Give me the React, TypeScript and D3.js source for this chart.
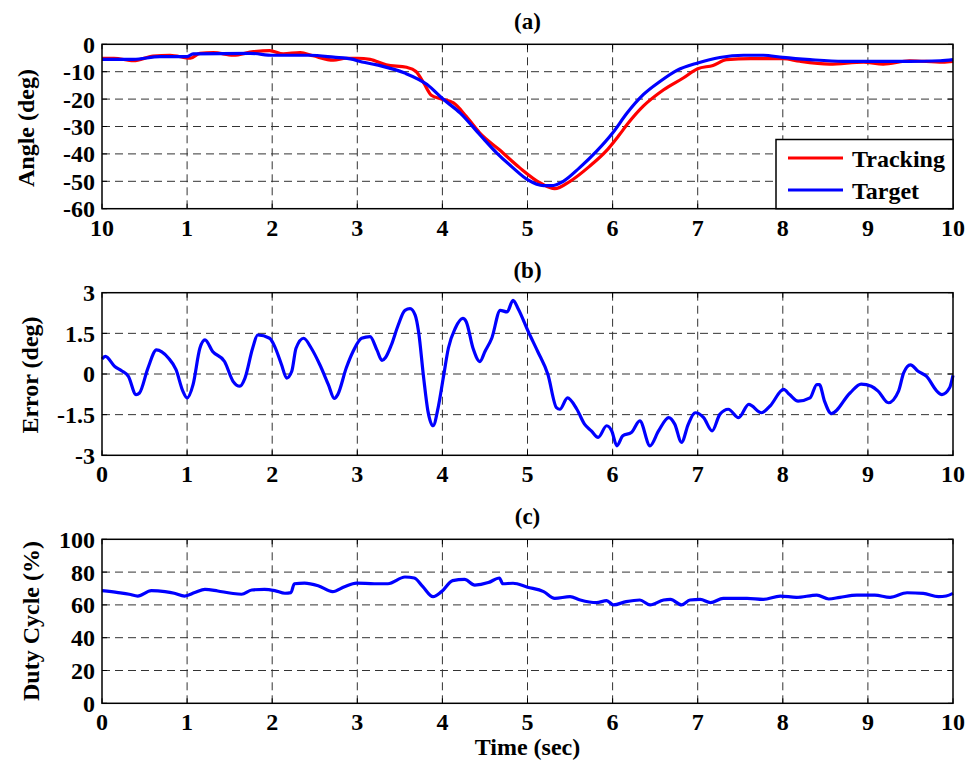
import React from "react";
import * as d3 from "d3";

// time axis ticks, shared by the three panels
const timeTicks = [0, 1, 2, 3, 4, 5, 6, 7, 8, 9, 10];
const angleTimeLabels = ["10", "1", "2", "3", "4", "5", "6", "7", "8", "9", "10"];
const timeLabels = ["0", "1", "2", "3", "4", "5", "6", "7", "8", "9", "10"];

const angleTicks = [0, -10, -20, -30, -40, -50, -60];
const errorTicks = [3, 1.5, 0, -1.5, -3];
const errorTickLabels = ["3", "1.5", "0", "-1.5", "-3"];
const dutyTicks = [0, 20, 40, 60, 80, 100];

// (a) tracking angle (red)
const trackingT = [0, 0.14, 0.37, 0.6, 0.8, 1.04, 1.15, 1.31, 1.54, 1.78, 1.97, 2.13, 2.33, 2.48, 2.72, 2.87, 3.0, 3.15, 3.34, 3.58, 3.69, 3.78, 3.87, 3.97, 4.13, 4.28, 4.44, 4.67, 4.91, 5.15, 5.32, 5.5, 5.73, 5.92, 6.08, 6.17, 6.36, 6.6, 6.83, 7.0, 7.18, 7.34, 7.62, 8.0, 8.2, 8.55, 8.95, 9.18, 9.49, 9.88, 10.0];
const trackingV = [-5.1, -5.1, -6.0, -4.3, -4.0, -5.1, -3.3, -3.0, -4.0, -2.7, -2.3, -3.5, -3.0, -4.2, -5.8, -5.1, -5.1, -5.5, -7.5, -8.4, -9.9, -14.1, -18.6, -19.8, -21.4, -26.3, -32.4, -38.5, -45.1, -50.6, -52.7, -50.0, -44.5, -39.1, -33.0, -29.3, -22.6, -16.6, -12.3, -8.9, -7.7, -5.6, -5.2, -5.2, -6.2, -7.2, -6.5, -7.2, -6.0, -6.5, -6.2];

// (a) target angle (blue)
const targetT = [0, 0.37, 0.68, 1.0, 1.07, 1.74, 2.01, 2.44, 2.72, 2.95, 3.0, 3.23, 3.55, 3.82, 4.0, 4.21, 4.44, 4.64, 4.83, 5.0, 5.19, 5.28, 5.42, 5.61, 5.81, 6.0, 6.17, 6.36, 6.56, 6.75, 7.0, 7.26, 7.54, 7.77, 8.0, 8.32, 8.71, 9.1, 9.49, 9.85, 10.0];
const targetV = [-5.5, -5.5, -4.5, -4.5, -3.5, -3.3, -4.0, -4.0, -4.7, -5.5, -6.0, -7.5, -10.4, -14.7, -19.8, -25.1, -33.0, -39.7, -45.1, -49.4, -51.6, -51.6, -50.0, -45.1, -39.1, -32.4, -25.1, -18.4, -13.5, -9.6, -6.8, -4.8, -4.0, -4.0, -4.8, -5.6, -6.2, -6.2, -6.2, -6.0, -5.6];

// (b) tracking error
const errorT = [0, 0.04, 0.15, 0.23, 0.31, 0.4, 0.44, 0.54, 0.64, 0.78, 0.87, 0.95, 1.0, 1.07, 1.15, 1.21, 1.3, 1.44, 1.54, 1.62, 1.68, 1.77, 1.83, 1.97, 2.03, 2.11, 2.17, 2.23, 2.28, 2.37, 2.46, 2.56, 2.66, 2.73, 2.77, 2.87, 2.95, 3.05, 3.15, 3.23, 3.29, 3.33, 3.4, 3.48, 3.56, 3.62, 3.68, 3.72, 3.78, 3.83, 3.89, 3.95, 4.01, 4.07, 4.15, 4.24, 4.28, 4.36, 4.44, 4.5, 4.58, 4.68, 4.76, 4.83, 4.89, 5.01, 5.12, 5.24, 5.34, 5.38, 5.47, 5.58, 5.67, 5.75, 5.83, 5.93, 5.99, 6.05, 6.12, 6.22, 6.32, 6.44, 6.54, 6.66, 6.73, 6.81, 6.89, 6.97, 7.07, 7.17, 7.26, 7.36, 7.48, 7.6, 7.75, 7.85, 8.01, 8.08, 8.18, 8.32, 8.4, 8.43, 8.49, 8.57, 8.79, 8.92, 9.04, 9.12, 9.24, 9.36, 9.42, 9.5, 9.59, 9.69, 9.81, 9.87, 9.96, 10.0];
const errorV = [0.55, 0.65, 0.28, 0.12, -0.09, -0.76, -0.7, 0.22, 0.89, 0.59, 0.16, -0.63, -0.88, -0.39, 0.95, 1.26, 0.83, 0.46, -0.27, -0.45, -0.15, 0.95, 1.44, 1.32, 1.01, 0.34, -0.15, 0.1, 0.95, 1.32, 0.95, 0.34, -0.39, -0.9, -0.76, 0.22, 0.83, 1.32, 1.38, 0.89, 0.5, 0.6, 1.07, 1.8, 2.35, 2.41, 2.17, 1.56, -0.15, -1.37, -1.91, -1.24, -0.15, 0.95, 1.68, 2.05, 1.93, 0.95, 0.46, 0.83, 1.32, 2.35, 2.29, 2.72, 2.41, 1.56, 0.83, -0.02, -1.24, -1.3, -0.88, -1.3, -1.85, -2.1, -2.34, -1.91, -2.1, -2.65, -2.28, -2.16, -1.73, -2.65, -2.1, -1.61, -1.85, -2.52, -1.85, -1.43, -1.61, -2.1, -1.49, -1.3, -1.61, -1.12, -1.43, -1.18, -0.57, -0.76, -1.0, -0.88, -0.39, -0.39, -1.0, -1.46, -0.7, -0.37, -0.45, -0.63, -1.06, -0.63, 0.04, 0.34, 0.1, -0.09, -0.63, -0.76, -0.51, -0.05];

// (c) duty cycle
const dutyT = [0, 0.19, 0.32, 0.42, 0.58, 0.74, 0.85, 0.97, 1.09, 1.21, 1.36, 1.52, 1.64, 1.76, 1.91, 2.03, 2.15, 2.22, 2.26, 2.38, 2.54, 2.71, 2.85, 2.99, 3.2, 3.36, 3.56, 3.67, 3.77, 3.89, 3.99, 4.12, 4.26, 4.38, 4.54, 4.67, 4.71, 4.83, 5.0, 5.19, 5.32, 5.5, 5.62, 5.81, 5.93, 6.01, 6.16, 6.32, 6.44, 6.6, 6.68, 6.81, 6.91, 7.03, 7.15, 7.3, 7.58, 7.77, 7.97, 8.16, 8.4, 8.54, 8.67, 8.87, 9.08, 9.26, 9.46, 9.65, 9.83, 9.92, 10.0];
const dutyV = [68.7, 67.5, 66.5, 65.4, 68.7, 68.1, 67.1, 65.4, 67.5, 69.5, 68.5, 67.1, 66.5, 69.1, 69.5, 68.7, 67.1, 67.5, 72.9, 73.3, 71.7, 68.1, 71.1, 73.3, 72.9, 72.9, 77.0, 76.4, 71.1, 65.0, 68.1, 74.8, 75.6, 72.1, 73.6, 76.4, 72.9, 73.2, 70.8, 68.1, 64.0, 65.0, 63.0, 61.4, 62.6, 60.0, 62.0, 63.0, 60.0, 63.0, 63.4, 60.0, 63.0, 63.4, 61.4, 64.0, 64.0, 63.4, 65.4, 64.6, 66.0, 63.6, 64.6, 66.0, 66.0, 64.6, 67.4, 67.0, 65.0, 65.4, 67.0];

const FONT = "'Liberation Serif', 'Times New Roman', serif";
const W = 973;
const H = 764;
const left = 102;
const right = 953;

type Series = { t: number[]; v: number[]; color: string };

function Panel({ top, bottom, domain, yTicks, yLabels, xLabels, title, ylabel, ylabelY, ylabelX, series }: {
  top: number; bottom: number; domain: [number, number]; yTicks: number[]; yLabels: string[];
  xLabels: string[]; title: string; ylabel: string; ylabelY: number; ylabelX: number; series: Series[];
}) {
  const x = d3.scaleLinear().domain([0, 10]).range([left, right]);
  const y = d3.scaleLinear().domain(domain).range([bottom, top]);
  const tick = 5;

  return (
    <g>
      {/* grid */}
      {timeTicks.slice(1, -1).map((t) => (
        <line key={"vx" + t} x1={x(t)} x2={x(t)} y1={top} y2={bottom} stroke="#333" strokeWidth={1} strokeDasharray="8,5" />
      ))}
      {yTicks.filter((v) => v !== domain[0] && v !== domain[1]).map((v) => (
        <line key={"hy" + v} x1={left} x2={right} y1={y(v)} y2={y(v)} stroke="#333" strokeWidth={1} strokeDasharray="8,5" />
      ))}
      {/* inward ticks */}
      {timeTicks.map((t) => (
        <g key={"tk" + t}>
          <line x1={x(t)} x2={x(t)} y1={bottom} y2={bottom - tick} stroke="#000" />
          <line x1={x(t)} x2={x(t)} y1={top} y2={top + tick} stroke="#000" />
        </g>
      ))}
      {yTicks.map((v) => (
        <g key={"ty" + v}>
          <line x1={left} x2={left + tick} y1={y(v)} y2={y(v)} stroke="#000" />
          <line x1={right} x2={right - tick} y1={y(v)} y2={y(v)} stroke="#000" />
        </g>
      ))}
      {series.map((s, i) => {
        const pts = s.t.map((t, k) => [t, s.v[k]] as [number, number]);
        const line = d3.line<[number, number]>().x((d) => x(d[0])).y((d) => y(d[1])).curve(d3.curveMonotoneX);
        return <path key={i} d={line(pts) ?? ""} fill="none" stroke={s.color} strokeWidth={3.2} strokeLinejoin="round" />;
      })}
      <rect x={left} y={top} width={right - left} height={bottom - top} fill="none" stroke="#000" strokeWidth={1.5} />
      {/* tick labels */}
      {timeTicks.map((t, i) => (
        <text key={"xl" + t} x={x(t)} y={bottom + 27} textAnchor="middle" fontSize={24} fontWeight="bold" fontFamily={FONT}>
          {xLabels[i]}
        </text>
      ))}
      {yTicks.map((v, i) => (
        <text key={"yl" + v} x={left - 7} y={y(v)} dy="0.35em" textAnchor="end" fontSize={24} fontWeight="bold" fontFamily={FONT}>
          {yLabels[i]}
        </text>
      ))}
      <text x={(left + right) / 2} y={top - 15} textAnchor="middle" fontSize={23} fontWeight="bold" fontFamily={FONT}>
        {title}
      </text>
      <text transform={`translate(${ylabelX},${ylabelY}) rotate(-90)`} textAnchor="middle" fontSize={24} fontWeight="bold" fontFamily={FONT}>
        {ylabel}
      </text>
    </g>
  );
}

export default function App() {
  return (
    <svg width={W} height={H} style={{ position: "absolute", left: 0, top: 0, background: "#fff" }}>
      <rect width={W} height={H} fill="#fff" />
      <Panel
        top={44.3}
        bottom={208.7}
        domain={[-60, 0]}
        yTicks={angleTicks}
        yLabels={angleTicks.map(String)}
        xLabels={angleTimeLabels}
        title="(a)"
        ylabel="Angle (deg)"
        ylabelX={34}
        ylabelY={128}
        series={[
          { t: trackingT, v: trackingV, color: "#ff0000" },
          { t: targetT, v: targetV, color: "#0000ff" },
        ]}
      />
      {/* legend */}
      <g>
        <rect x={776} y={139.5} width={177} height={69.2} fill="#fff" stroke="#000" strokeWidth={1.5} />
        <line x1={788} x2={843} y1={158} y2={158} stroke="#ff0000" strokeWidth={3} />
        <line x1={788} x2={843} y1={190} y2={190} stroke="#0000ff" strokeWidth={3} />
        <text x={852} y={167} fontSize={24} fontWeight="bold" fontFamily={FONT}>Tracking</text>
        <text x={852} y={199} fontSize={24} fontWeight="bold" fontFamily={FONT}>Target</text>
      </g>
      <Panel
        top={292.7}
        bottom={455.3}
        domain={[-3, 3]}
        yTicks={errorTicks}
        yLabels={errorTickLabels}
        xLabels={timeLabels}
        title="(b)"
        ylabel="Error (deg)"
        ylabelX={38}
        ylabelY={375}
        series={[{ t: errorT, v: errorV, color: "#0000ff" }]}
      />
      <Panel
        top={539.3}
        bottom={703.3}
        domain={[0, 100]}
        yTicks={dutyTicks}
        yLabels={dutyTicks.map(String)}
        xLabels={timeLabels}
        title="(c)"
        ylabel="Duty Cycle (%)"
        ylabelX={39}
        ylabelY={621}
        series={[{ t: dutyT, v: dutyV, color: "#0000ff" }]}
      />
      <text x={(left + right) / 2} y={755} textAnchor="middle" fontSize={24} fontWeight="bold" fontFamily={FONT}>
        Time (sec)
      </text>
    </svg>
  );
}
